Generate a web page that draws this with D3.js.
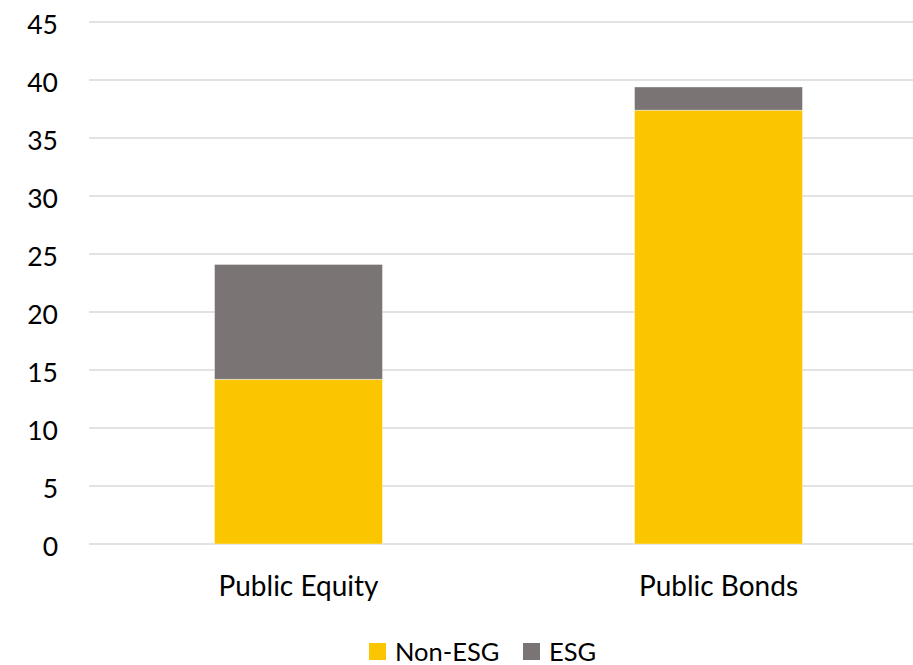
<!DOCTYPE html>
<html><head><meta charset="utf-8">
<script src="https://cdn.jsdelivr.net/npm/d3@7"></script>
<style>body{margin:0;background:#fff}svg{display:block}text{font-family:Lato,"Open Sans",sans-serif;fill:#000}</style>
</head><body><svg id="c" width="913" height="665"></svg>
<script>
const categories = ["Public Equity", "Public Bonds"];
const seriesNames = ["Non-ESG", "ESG"];
const nonEsg = [14.2, 37.4];
const esg = [9.9, 2.0];
const yTicks = [0, 5, 10, 15, 20, 25, 30, 35, 40, 45];
const colors = ["#FBC600", "#7A7574"];

const svg = d3.select("#c");
const y = d3.scaleLinear().domain([0, 45]).range([544, 22]);
const x = d3.scaleBand().domain(categories).range([88.5, 928.5]).paddingInner(0.6).paddingOuter(0.3);

// gridlines
svg.append("g").selectAll("line").data(yTicks).join("line")
  .attr("x1", 89).attr("x2", 913)
  .attr("y1", d => y(d)).attr("y2", d => y(d))
  .attr("stroke", "#d9d9d9").attr("stroke-width", 1.5);

// y labels
const yAxis = d3.axisLeft(y).tickValues(yTicks).tickSize(0).tickPadding(0);
const ga = svg.append("g").attr("transform", "translate(58,0)").call(yAxis);
ga.select(".domain").remove();
ga.selectAll("text").attr("dy", "0.45em").style("font-size", "26.5px").attr("fill", "#000").style("font-family", "Lato, sans-serif");

const rows = categories.map((c, i) => ({cat: c, "Non-ESG": nonEsg[i], "ESG": esg[i]}));
const stack = d3.stack().keys(seriesNames)(rows);

svg.append("g").selectAll("g").data(stack).join("g")
  .attr("fill", (d, i) => colors[i])
  .selectAll("rect").data(d => d).join("rect")
  .attr("x", d => x(d.data.cat))
  .attr("width", x.bandwidth())
  .attr("y", d => y(d[1]))
  .attr("height", d => y(d[0]) - y(d[1]))
  .attr("stroke", "rgba(255,255,255,0.5)").attr("stroke-width", 0.8);

// x labels
const xAxis = d3.axisBottom(x).tickSize(0).tickPadding(0);
const gx = svg.append("g").attr("transform", "translate(0,576)").call(xAxis);
gx.select(".domain").remove();
gx.selectAll("text").style("font-size", "28px").attr("fill", "#000").style("font-family", "Lato, sans-serif");

// legend
const leg = svg.append("g");
const legX = [369, 523];
seriesNames.forEach((s, i) => {
  leg.append("rect").attr("x", legX[i]).attr("y", 643).attr("width", 17).attr("height", 17).attr("fill", colors[i]);
  leg.append("text").attr("x", legX[i] + 26).attr("y", 661).style("font-size", "25.5px").text(s);
});
</script></body></html>
